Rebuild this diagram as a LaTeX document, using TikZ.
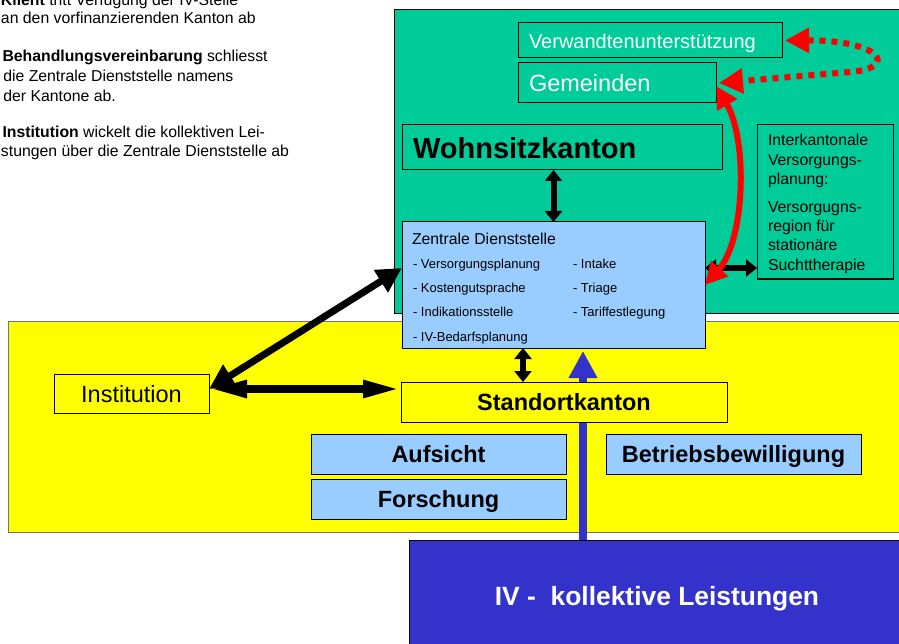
\documentclass[tikz,border=0pt]{standalone}
\usepackage{fontspec}
\setmainfont{Liberation Sans}
\usetikzlibrary{arrows.meta,calc}
\definecolor{wgreen}{RGB}{0,204,153}
\definecolor{lblue}{RGB}{153,204,255}
\definecolor{ivblue}{RGB}{51,51,204}
\definecolor{cyellow}{RGB}{255,255,0}
\definecolor{cred}{RGB}{255,0,0}
\newcommand{\myfs}[1]{\fontsize{#1}{#1}\selectfont}
\tikzset{
  frame/.style={draw=black, line width=1pt, inner sep=0pt, outer sep=0pt, anchor=north west},
  txt/.style={inner sep=0pt, outer sep=0pt, anchor=base west},
  lbl/.style={draw=black, line width=1pt, inner sep=0pt, outer sep=0pt, anchor=center,
              text height=17pt, text depth=0pt, minimum height=40pt},
  dbl/.style={line width=6pt, {Triangle[length=11pt,width=17pt]}-{Triangle[length=11pt,width=17pt]}},
  dblh/.style={line width=8pt, {Triangle[length=38pt,width=16pt]}-{Triangle[length=38pt,width=16pt]}},
  dbld/.style={line width=7pt, {Triangle[length=25pt,width=25pt]}-{Triangle[length=25pt,width=25pt]}},
  bluearr/.style={draw=ivblue, line width=8.5pt, -{Triangle[length=27pt,width=27pt]}},
  redarr/.style={draw=cred, line width=6pt, {Triangle[length=22pt,width=22pt]}-{Triangle[length=22pt,width=22pt]}},
  reddot/.style={draw=cred, line width=6pt, dash pattern=on 6pt off 6pt,
                 {Triangle[length=24pt,width=24pt]}-{Triangle[length=24pt,width=24pt]}}
}
\begin{document}
\begin{tikzpicture}[x=1pt,y=-1pt]
\useasboundingbox (0,0) rectangle (899,644);
\clip (0,0) rectangle (899,644);

% left explanatory text
\node[txt, font=\myfs{15.8}] (t1) at (1,6) {\textbf{Klient} tritt Verfügung der IV-Stelle};
\node[txt, font=\myfs{15.8}] (t2) at (1,24) {an den vorfinanzierenden Kanton ab};
\node[txt, font=\myfs{15.8}] (t3) at (2.5,61.7) {\textbf{Behandlungsvereinbarung} schliesst};
\node[txt, font=\myfs{15.8}] (t4) at (3.3,81.5) {die Zentrale Dienststelle namens};
\node[txt, font=\myfs{15.8}] (t5) at (3.3,101.3) {der Kantone ab.};
\node[txt, font=\myfs{15.8}] (t6) at (2.5,138) {\textbf{Institution} wickelt die kollektiven Lei-};
\node[txt, font=\myfs{15.8}] (t7) at (1,157) {stungen über die Zentrale Dienststelle ab};

% background areas
\node[frame, fill=wgreen, minimum width=520pt, minimum height=303pt] (wohnbg) at (394,10) {};
\node[frame, draw=black!55, fill=cyellow, minimum width=900pt, minimum height=211pt] (standbg) at (8,321) {};
\node[frame, fill=ivblue, minimum width=500pt, minimum height=120pt] (ivbox) at (409,540) {};
\node[anchor=base, inner sep=0pt, text=white, font=\myfs{26.4}\bfseries] (ivtext) at (657,605)
  {IV -\hspace{0.556em}kollektive Leistungen};

% Zentrale Dienststelle
\node[frame, fill=lblue, minimum width=303pt, minimum height=126pt] (zent) at (402,222) {};
\node[txt, font=\myfs{15.8}] (zt) at (412,244.5) {Zentrale Dienststelle};
\node[txt, font=\myfs{13}] (z1) at (413,268.5) {- Versorgungsplanung};
\node[txt, font=\myfs{13}] (z2) at (413,292.5) {- Kostengutsprache};
\node[txt, font=\myfs{13}] (z3) at (413,316.5) {- Indikationsstelle};
\node[txt, font=\myfs{13}] (z4) at (413,341.5) {- IV-Bedarfsplanung};
\node[txt, font=\myfs{13}] (z5) at (573,268.5) {- Intake};
\node[txt, font=\myfs{13}] (z6) at (573,292.5) {- Triage};
\node[txt, font=\myfs{13}] (z7) at (573,316.5) {- Tariffestlegung};

% blue arrow (behind Standortkanton)
\coordinate (ax) at (583,0);
\draw[bluearr] (ax |- ivbox.north) -- ($(ax |- zent.south)+(0,3)$);

% boxes in the green area
\node[frame, minimum width=264pt, minimum height=35pt] (verw) at (518,23) {};
\node[txt, text=white, font=\myfs{20}] (verwt) at (529,48.3) {Verwandtenunterstützung};
\node[frame, minimum width=198pt, minimum height=40pt] (gem) at (518,63) {};
\node[txt, text=white, font=\myfs{23.5}] (gemt) at (529,91.7) {Gemeinden};
\node[frame, minimum width=320pt, minimum height=45pt] (wohn) at (402,125) {};
\node[txt, font=\myfs{29}\bfseries] (wohnt) at (413,158.5) {Wohnsitzkanton};
\node[frame, minimum width=136pt, minimum height=154pt] (inter) at (757,125) {};
\node[txt, font=\myfs{15.8}] (i1) at (768,146) {Interkantonale};
\node[txt, font=\myfs{15.8}] (i2) at (768,165.5) {Versorgungs-};
\node[txt, font=\myfs{15.8}] (i3) at (768,185) {planung:};
\node[txt, font=\myfs{15.8}] (i4) at (768,213) {Versorgugns-};
\node[txt, font=\myfs{15.8}] (i5) at (768,232) {region für};
\node[txt, font=\myfs{15.8}] (i6) at (768,251) {stationäre};
\node[txt, font=\myfs{15.8}] (i7) at (768,270) {Suchttherapie};

% boxes in the yellow area
\node[lbl, fill=cyellow, minimum width=326pt, font=\myfs{23.5}\bfseries] (stand) at (564,402) {Standortkanton};
\node[lbl, fill=cyellow, minimum width=155pt, minimum height=39pt, font=\myfs{23.5}] (inst) at (131.5,393.5) {Institution};
\node[lbl, fill=lblue, minimum width=255pt, font=\myfs{23.5}\bfseries] (aufs) at (438.5,454) {Aufsicht};
\node[lbl, fill=lblue, minimum width=255pt, font=\myfs{23.5}\bfseries] (forsch) at (438.5,499) {Forschung};
\node[lbl, fill=lblue, minimum width=255pt, font=\myfs{23.5}\bfseries] (betr) at (733.5,454) {Betriebsbewilligung};

% black double arrows
\coordinate (a1) at (523,0);
\coordinate (a2) at (0,268);
\coordinate (a3) at (0,389);
\draw[dbl] (zent.north |- wohn.south) -- (zent.north);
\draw[dbl] (a1 |- zent.south) -- (a1 |- stand.north);
\draw[dbl] (zent.east |- a2) -- (inter.west |- a2);
\draw[dblh] (inst.east |- a3) -- (stand.west |- a3);
\draw[dbld] (inst.east |- a3) -- (zent.west |- a2);

% red arrows
\draw[redarr] (zent.east) .. controls (745,240) and (748,140) .. ($(gem.east)+(0,3)$);
\draw[reddot] ($(verw.east)+(3,0)$) .. controls (880,40) and (900,68) .. (850,72) -- ($(gem.east)+(3,0)$);
\end{tikzpicture}
\end{document}
